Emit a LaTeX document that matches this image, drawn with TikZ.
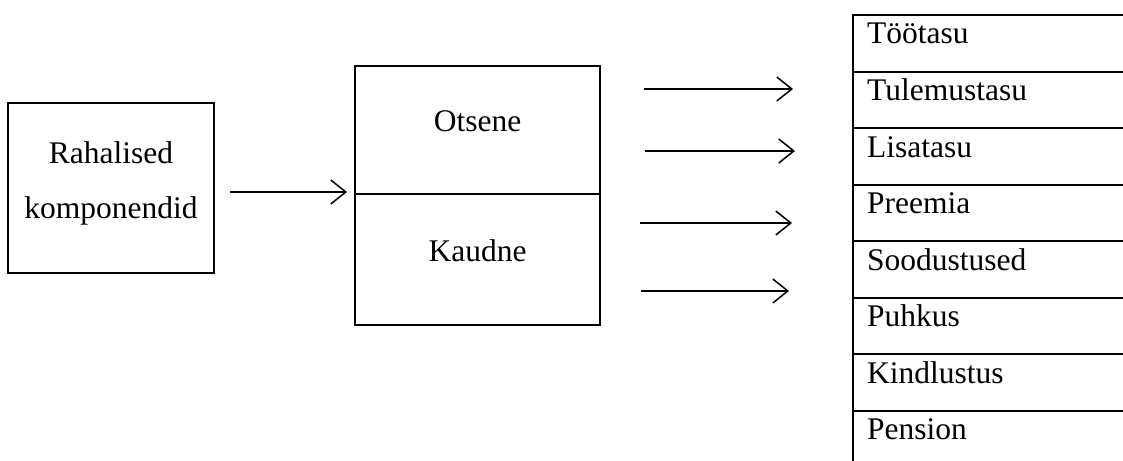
\documentclass[tikz,border=0pt]{standalone}
\usepackage{fontspec}
\setmainfont{Liberation Serif}
\usetikzlibrary{arrows.meta}
\begin{document}
\begin{tikzpicture}[x=1pt,y=-1pt,
  box/.style={draw,line width=2pt,inner sep=0pt},
  lbl/.style={font=\fontsize{31.5}{55}\selectfont},
  rowlbl/.style={font=\fontsize{31.5}{36}\selectfont,anchor=base west,inner sep=0pt},
  conn/.style={line width=1.5pt,-{Straight Barb[length=15pt,width=24pt,line width=1.5pt]}}]
\useasboundingbox (0,0) rectangle (1123,460);
\clip (0,0) rectangle (1123,460);
% left box
\node[box,minimum width=206pt,minimum height=170pt] (rah) at (111,188) {};
\node[lbl,anchor=base] (rah1) at (111,163) {Rahalised};
\node[lbl,anchor=base] (rah2) at (111,218) {komponendid};
% middle boxes
\node[box,minimum width=245pt,minimum height=128pt] (ots) at (477.5,130) {};
\node[box,minimum width=245pt,minimum height=131pt] (kau) at (477.5,259.5) {};
\node[lbl,anchor=base] (otst) at (477.5,131) {Otsene};
\node[lbl,anchor=base] (kaut) at (477.5,261) {Kaudne};
% right column
\foreach \i/\t in {0/Töötasu,1/Tulemustasu,2/Lisatasu,3/Preemia,4/Soodustused,5/Puhkus,6/Kindlustus,7/Pension}{
  \pgfmathsetmacro{\ytop}{14+56.5*\i}
  \node[box,minimum width=290pt,minimum height=56.5pt,anchor=north west] (r\i) at (852,\ytop) {};
  \node[rowlbl] (t\i) at (867,\ytop+30) {\t};
}
% connectors
\coordinate (a0s) at (230,192); \coordinate (a0e) at (347,192);
\coordinate (a1s) at (644,89);  \coordinate (a1e) at (793,89);
\coordinate (a2s) at (645,151); \coordinate (a2e) at (795,151);
\coordinate (a3s) at (640,223); \coordinate (a3e) at (792,223);
\coordinate (a4s) at (641,291); \coordinate (a4e) at (789,291);
\draw[conn] (a0s) -- (a0e);
\draw[conn] (a1s) -- (a1e);
\draw[conn] (a2s) -- (a2e);
\draw[conn] (a3s) -- (a3e);
\draw[conn] (a4s) -- (a4e);
\end{tikzpicture}
\end{document}
